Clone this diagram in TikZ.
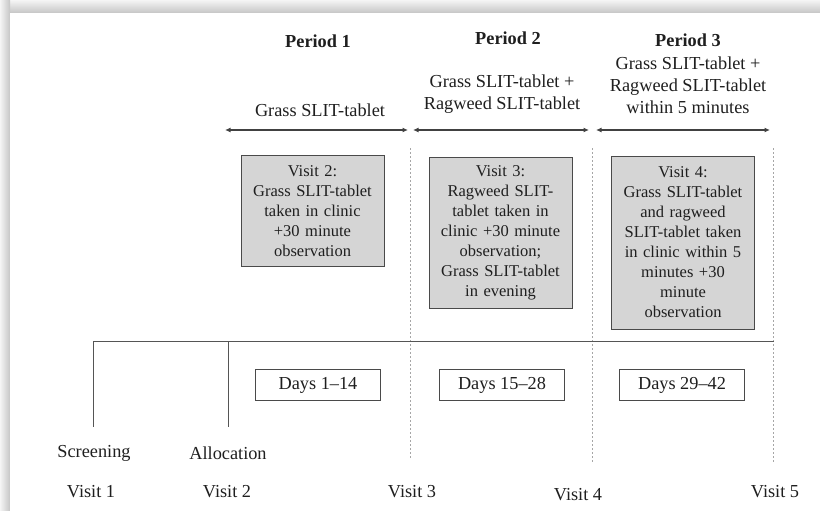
\documentclass[tikz,border=0pt]{standalone}
\usepackage{fontspec}
\setmainfont{Liberation Serif}
\usetikzlibrary{arrows.meta}
\definecolor{ink}{HTML}{1F1F1F}
\definecolor{boxfill}{HTML}{D5D5D5}
\definecolor{boxline}{HTML}{4A4A4A}
\definecolor{lineg}{HTML}{555555}
\begin{document}
\begin{tikzpicture}[x=1pt,y=-1pt,
  txt/.style={font=\fontsize{16.5}{20}\selectfont, text=ink, align=center, inner sep=0pt},
  lbl/.style={txt, font=\fontsize{18.3}{22}\selectfont},
  subtxt/.style={txt, font=\fontsize{18.3}{22}\selectfont},
  head/.style={txt, font=\fontsize{18.3}{22}\selectfont\bfseries},
  visitbox/.style={txt, draw=boxline, line width=0.9pt, fill=boxfill, minimum width=143pt, text width=137pt},
  daybox/.style={lbl, draw=boxline, line width=0.8pt, fill=white, minimum width=125pt, minimum height=31pt},
  period/.style={{Latex[length=5.5pt,width=5pt]}-{Latex[length=5.5pt,width=5pt]}, line width=1.7pt, draw=ink!85},
  sep/.style={draw=gray!70, line width=0.9pt, dash pattern=on 2pt off 2pt},
  axis/.style={draw=lineg, line width=0.9pt}]
\useasboundingbox (0,0) rectangle (820,511);
% page shadow
\shade[top color=gray!8, bottom color=gray!45] (0,0) rectangle (820,13);
\shade[left color=gray!8, right color=gray!45] (0,0) rectangle (10,511);
\fill[white] (10,13) rectangle (820,511);

% headings
\node[head] (p1) at (318,41) {Period 1};
\node[head] (p2) at (508,38) {Period 2};
\node[head] (p3) at (688,40) {Period 3};
\node[subtxt] (p1t) at (320,110) {Grass SLIT-tablet};
\node[subtxt] (p2t) at (502,94) {Grass SLIT-tablet +\\Ragweed SLIT-tablet};
\node[subtxt] (p3t) at (688,85) {Grass SLIT-tablet +\\Ragweed SLIT-tablet\\within 5 minutes};

% period arrows
\coordinate (a1s) at (225,130); \coordinate (a1e) at (408,130);
\coordinate (a2s) at (413,130); \coordinate (a2e) at (589,130);
\coordinate (a3s) at (596,130); \coordinate (a3e) at (770,130);
\draw[period] (a1s) -- (a1e);
\draw[period] (a2s) -- (a2e);
\draw[period] (a3s) -- (a3e);

% dashed separators
\coordinate (s1t) at (410,148); \coordinate (s1b) at (410,458);
\coordinate (s2t) at (592,148); \coordinate (s2b) at (592,462);
\coordinate (s3t) at (773,148); \coordinate (s3b) at (773,462);
\draw[sep] (s1t) -- (s1b);
\draw[sep] (s2t) -- (s2b);
\draw[sep] (s3t) -- (s3b);

% visit boxes
\node[visitbox, minimum height=111pt] (v2) at (312.5,211) {Visit 2:\\Grass SLIT-tablet\\taken in clinic\\+30 minute\\observation};
\node[visitbox, minimum height=151pt] (v3) at (500.5,232.5) {Visit 3:\\Ragweed SLIT-\\tablet taken in\\clinic +30 minute\\observation;\\Grass SLIT-tablet\\in evening};
\node[visitbox, minimum height=173pt] (v4) at (683,242.5) {Visit 4:\\Grass SLIT-tablet\\and ragweed\\SLIT-tablet taken\\in clinic within 5\\minutes +30\\minute\\observation};

% time axis
\coordinate (axl) at (93,341); \coordinate (axr) at (774,341);
\draw[axis] (axl) -- (axr);
\coordinate (t1b) at (93,427); \coordinate (t2t) at (228,341); \coordinate (t2b) at (228,427);
\draw[axis] (axl) -- (t1b);
\draw[axis] (t2t) -- (t2b);

% day boxes
\node[daybox] (d1) at (318,385) {Days 1--14};
\node[daybox] (d2) at (502,385) {Days 15--28};
\node[daybox] (d3) at (682,385) {Days 29--42};

% bottom labels
\node[lbl] (scr) at (94,453) {Screening};
\node[lbl] (alc) at (228,453) {Allocation};
\node[lbl] (vl1) at (91,492) {Visit 1};
\node[lbl] (vl2) at (227,492) {Visit 2};
\node[lbl] (vl3) at (412,492) {Visit 3};
\node[lbl] (vl4) at (578,495) {Visit 4};
\node[lbl] (vl5) at (775,492) {Visit 5};
\end{tikzpicture}
\end{document}
